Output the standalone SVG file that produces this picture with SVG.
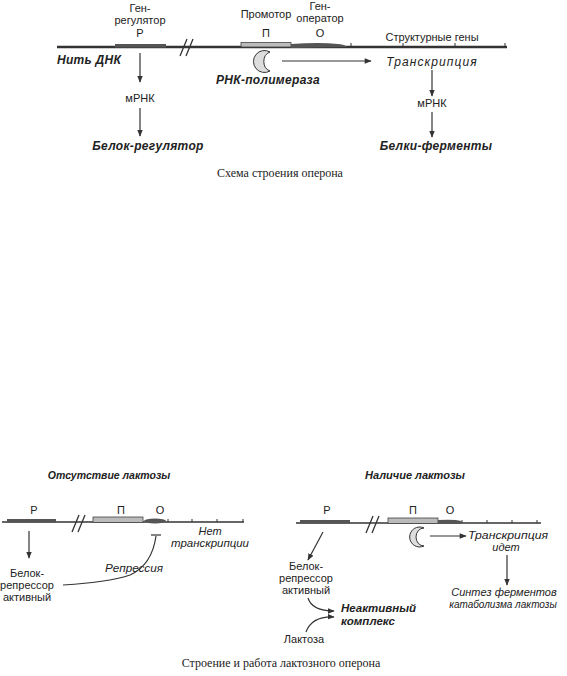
<svg xmlns="http://www.w3.org/2000/svg" width="567" height="676" viewBox="0 0 567 676">
<defs>
<marker id="ah" viewBox="0 0 10 10" refX="9" refY="5" markerWidth="7" markerHeight="7" markerUnits="userSpaceOnUse" orient="auto"><path d="M0,1 L10,5 L0,9 Z" fill="#333"/></marker>
<marker id="ahw" viewBox="0 0 10 10" refX="9" refY="5" markerWidth="11" markerHeight="7" markerUnits="userSpaceOnUse" orient="auto"><path d="M0,1 L10,5 L0,9 Z" fill="#333"/></marker>
</defs>
<style>
text{font-family:"Liberation Sans",Arial,sans-serif;fill:#222}
.l{font-size:11px}
.bi{font-size:12px;font-weight:bold;font-style:italic;letter-spacing:0.3px}
.bs{font-size:11px;font-weight:bold;font-style:italic}
.it{font-size:11px;font-style:italic}
.itw{font-size:12px;font-style:italic;letter-spacing:1.1px}
.cap{font-family:"Liberation Serif","Times New Roman",serif;font-size:12px}
.dna{stroke:#333;fill:none}
.bar{fill:#555}
.pro{fill:#bbb;stroke:#444;stroke-width:0.8}
.op{fill:#555}
.pol{fill:#ddd;stroke:#333;stroke-width:1}
.c{stroke:#333;stroke-width:1.2;fill:none}
.brk{stroke:#333;stroke-width:1.3;fill:none}
</style>

<!-- Top diagram -->
<g id="top-dna">
<line class="dna" x1="57" y1="47" x2="507" y2="47" stroke-width="2.5"/>
<path class="dna" d="M351,43 V47 M403,43 V47 M455,43 V47 M505,43 V47" stroke-width="1"/>
<path class="brk" d="M180,56 L187,39 M186,56 L193,39"/>
<text class="bi" x="57" y="64">Нить ДНК</text>
</g>
<g id="top-regulator">
<rect class="bar" x="115" y="44" width="51" height="3.5"/>
<text class="l" x="140" y="12" text-anchor="middle">Ген-</text>
<text class="l" x="140" y="24" text-anchor="middle">регулятор</text>
<text class="l" x="140" y="37" text-anchor="middle">Р</text>
</g>
<g id="top-promoter">
<rect class="pro" x="241" y="42.5" width="50" height="4.5"/>
<text class="l" x="266" y="18" text-anchor="middle">Промотор</text>
<text class="l" x="266" y="37" text-anchor="middle">П</text>
</g>
<g id="top-operator">
<path class="op" d="M291,44 Q320,42 338,44 Q347,45 346,47 L291,48 Z"/>
<text class="l" x="320" y="10" text-anchor="middle">Ген-</text>
<text class="l" x="320" y="22" text-anchor="middle">оператор</text>
<text class="l" x="320" y="37" text-anchor="middle">О</text>
</g>
<g id="top-structural">
<text class="l" x="432" y="41" text-anchor="middle">Структурные гены</text>
</g>
<g id="top-polymerase">
<path class="pol" d="M270,52 A11,11 0 1 0 270,71 A9,10 0 0 1 270,52 Z"/>
<text class="bi" x="268" y="84" text-anchor="middle">РНК-полимераза</text>
</g>
<g id="top-transcription"><text class="itw" x="432" y="66" text-anchor="middle">Транскрипция</text></g>
<g id="top-mrna1"><text class="l" x="140" y="102" text-anchor="middle">мРНК</text></g>
<g id="top-reg-protein"><text class="bi" x="148" y="150" text-anchor="middle">Белок-регулятор</text></g>
<g id="top-mrna2"><text class="l" x="432" y="107" text-anchor="middle">мРНК</text></g>
<g id="top-enzymes"><text class="bi" x="436" y="150" text-anchor="middle">Белки-ферменты</text></g>
<g id="top-caption"><text class="cap" x="280" y="177" text-anchor="middle">Схема строения оперона</text></g>

<g id="top-connectors">
<line class="c" x1="140" y1="53" x2="140" y2="82" marker-end="url(#ah)"/>
<line class="c" x1="140" y1="108" x2="140" y2="136" marker-end="url(#ah)"/>
<line class="c" x1="282" y1="61" x2="371" y2="61" marker-end="url(#ahw)"/>
<line class="c" x1="432" y1="70" x2="432" y2="96" marker-end="url(#ah)"/>
<line class="c" x1="432" y1="112" x2="432" y2="137" marker-end="url(#ah)"/>
</g>

<!-- Bottom left -->
<g id="bl-title"><text class="bs" x="109" y="479" text-anchor="middle" style="font-size:10.5px">Отсутствие лактозы</text></g>
<g id="bl-dna">
<line class="dna" x1="2" y1="522" x2="244" y2="522" stroke-width="1.3"/>
<path class="dna" d="M168,519 V522 M192,519 V522 M217,519 V522 M243,519 V522" stroke-width="1"/>
<path class="brk" d="M72,532 L79,515 M78,532 L85,515"/>
</g>
<g id="bl-R">
<rect class="bar" x="7" y="519" width="49" height="3.5"/>
<text class="l" x="34" y="514" text-anchor="middle">Р</text>
</g>
<g id="bl-P">
<rect class="pro" x="93" y="517" width="50" height="5.5"/>
<text class="l" x="121" y="514" text-anchor="middle">П</text>
</g>
<g id="bl-O">
<ellipse class="op" cx="155" cy="521" rx="11" ry="2.5"/>
<text class="l" x="160" y="514" text-anchor="middle">О</text>
</g>
<g id="bl-repressor">
<text class="l" x="27" y="577" text-anchor="middle">Белок-</text>
<text class="l" x="27" y="589" text-anchor="middle">репрессор</text>
<text class="l" x="27" y="601" text-anchor="middle">активный</text>
</g>
<g id="bl-repression"><text class="it" x="134" y="572" text-anchor="middle" textLength="58" lengthAdjust="spacingAndGlyphs">Репрессия</text></g>
<g id="bl-notranscr">
<text class="it" x="210" y="535" text-anchor="middle">Нет</text>
<text class="it" x="210" y="547" text-anchor="middle" textLength="78" lengthAdjust="spacingAndGlyphs">транскрипции</text>
</g>
<g id="bl-connectors">
<line class="c" x1="29" y1="531" x2="29" y2="558" marker-end="url(#ah)"/>
<path class="c" d="M63,585 Q110,582 130,575 Q152,565 156,536"/>
<line class="c" x1="151" y1="535" x2="161" y2="535" stroke-width="1.5"/>
</g>

<!-- Bottom right -->
<g id="br-title"><text class="bs" x="415" y="479" text-anchor="middle">Наличие лактозы</text></g>
<g id="br-dna">
<line class="dna" x1="296" y1="523" x2="541" y2="523" stroke-width="1.3"/>
<path class="dna" d="M462,520 V523 M487,520 V523 M512,520 V523 M537,520 V523" stroke-width="1"/>
<path class="brk" d="M366,533 L373,516 M372,533 L379,516"/>
</g>
<g id="br-R">
<rect class="bar" x="300" y="520" width="50" height="3.5"/>
<text class="l" x="327" y="514" text-anchor="middle">Р</text>
</g>
<g id="br-P">
<rect class="pro" x="388" y="518" width="50" height="5.5"/>
<text class="l" x="413" y="514" text-anchor="middle">П</text>
</g>
<g id="br-O">
<path class="op" d="M438,520 Q455,519 461,521 Q463,523 460,524 L438,524 Z"/>
<text class="l" x="450" y="514" text-anchor="middle">О</text>
</g>
<g id="br-polymerase">
<path class="pol" d="M424,528 A10,10 0 1 0 424,546 A8,9 0 0 1 424,528 Z"/>
</g>
<g id="br-transcr">
<text class="it" x="508" y="539" text-anchor="middle" textLength="80" lengthAdjust="spacingAndGlyphs">Транскрипция</text>
<text class="it" x="506" y="551" text-anchor="middle">идет</text>
</g>
<g id="br-synth">
<text class="it" x="504" y="596" text-anchor="middle">Синтез ферментов</text>
<text class="it" x="503" y="608" text-anchor="middle" style="font-size:10px">катаболизма лактозы</text>
</g>
<g id="br-repressor">
<text class="l" x="306" y="570" text-anchor="middle">Белок-</text>
<text class="l" x="306" y="582" text-anchor="middle">репрессор</text>
<text class="l" x="306" y="594" text-anchor="middle">активный</text>
</g>
<g id="br-complex">
<text class="bs" x="341" y="612" style="font-size:11.5px">Неактивный</text>
<text class="bs" x="341" y="625" style="font-size:11.5px">комплекс</text>
</g>
<g id="br-lactose"><text class="l" x="304" y="643" text-anchor="middle">Лактоза</text></g>
<g id="br-connectors">
<line class="c" x1="323" y1="532" x2="308" y2="560" marker-end="url(#ah)"/>
<line class="c" x1="430" y1="536" x2="466" y2="536" marker-end="url(#ahw)"/>
<line class="c" x1="507" y1="555" x2="507" y2="585" marker-end="url(#ah)"/>
<path class="c" d="M308,598 Q312,611 334,611" marker-end="url(#ah)"/>
<path class="c" d="M306,632 Q312,616 334,617" marker-end="url(#ah)"/>
</g>
<g id="br-caption"><text class="cap" x="281" y="667" text-anchor="middle">Строение и работа лактозного оперона</text></g>
</svg>
